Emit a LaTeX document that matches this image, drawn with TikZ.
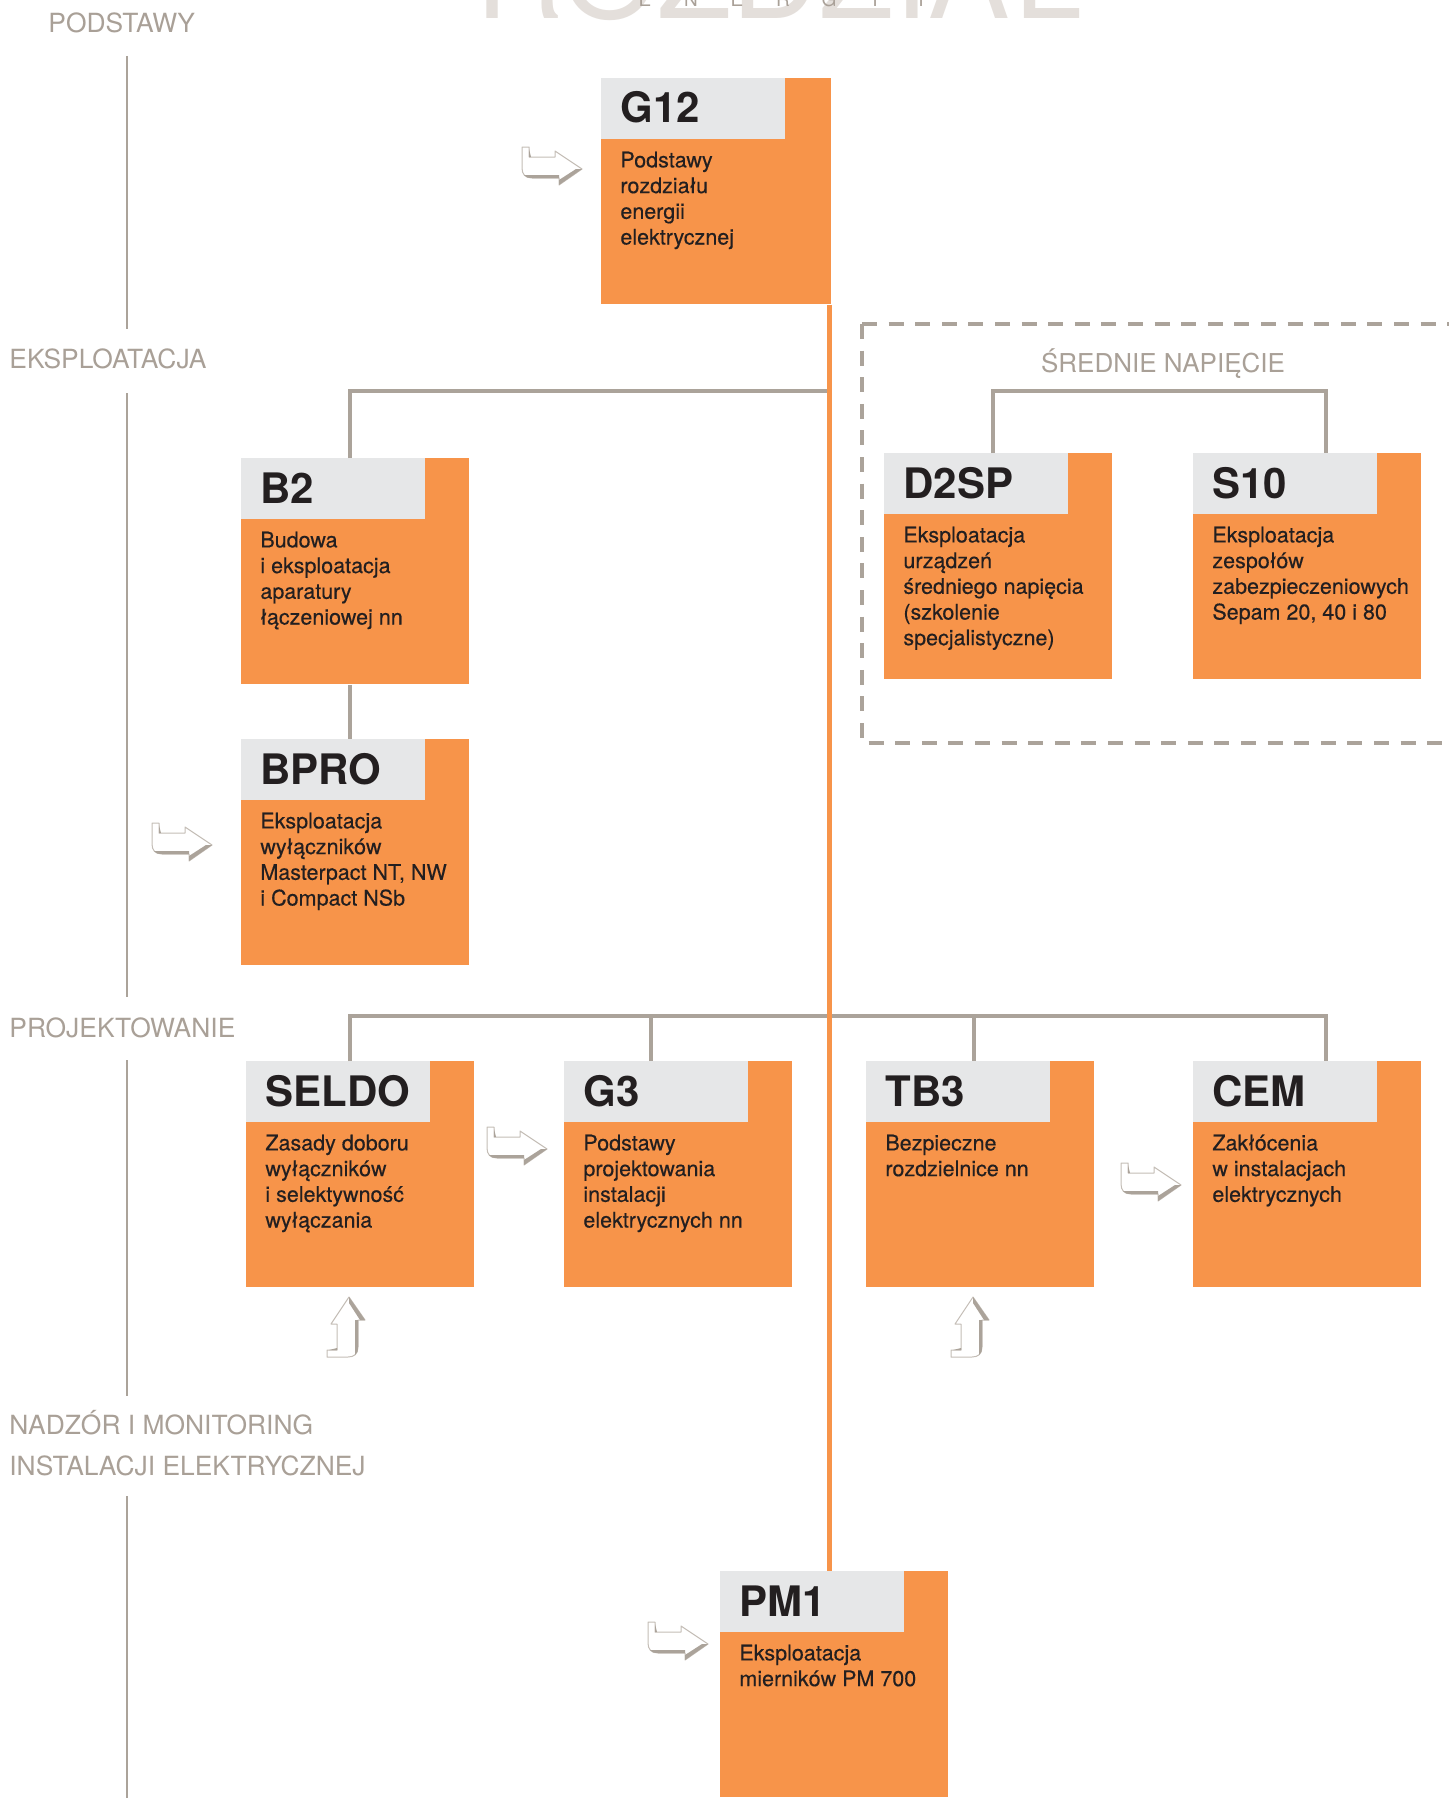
\documentclass[tikz,border=0pt]{standalone}
\usepackage{fontspec}
\setmainfont{TeX Gyre Heros}
\newfontfamily\bodyfont{TeX Gyre Heros}[FakeBold=0.35]
\usetikzlibrary{calc}
\definecolor{corange}{HTML}{F7944A}
\definecolor{chead}{HTML}{E6E7E8}
\definecolor{cline}{HTML}{ABA39A}
\definecolor{ctext}{HTML}{231F20}
\definecolor{clabel}{HTML}{A9A097}
\definecolor{ctitle}{HTML}{E4DFDB}
\definecolor{carrow}{HTML}{C4BDB6}
\tikzset{
  obox/.style={fill=corange, draw=none, minimum width=114pt, minimum height=113pt, inner sep=0pt, anchor=north west},
  hbox/.style={fill=chead, draw=none, minimum width=92pt, minimum height=30.5pt, inner sep=0pt, anchor=north west},
  ttl/.style={inner sep=0pt, anchor=base west, text=ctext, font={\fontsize{21}{24}\selectfont\bfseries}},
  bodytxt/.style={inner sep=0pt, anchor=north west, text=ctext, align=left, font={\bodyfont\fontsize{10.75}{12.85}\selectfont}},
  sidelabel/.style={inner sep=0pt, anchor=base west, text=clabel, font={\fontsize{13.2}{15}\selectfont}},
  gl/.style={draw=cline, line width=2.3pt, line join=miter},
  oline/.style={draw=corange, line width=2.5pt},
  sl/.style={draw=cline, line width=0.9pt},
  dashbox/.style={draw=cline, line width=2.2pt, dash pattern=on 7.5pt off 5.8pt},
  pics/hook/.style={code={
    \path[fill=white, draw=carrow, line width=0.5pt, line join=round]
      (0,0) -- (7,0) -- (7,10) -- (33,10) -- (33,4) -- (60,22) -- (37,38) -- (37,31) -- (10,31)
      .. controls (3,31) and (0,27) .. (0,21) -- cycle;
    \fill[cline] (60,22) -- (37,38) -- (37,33) -- (54,22) -- cycle;
    \fill[cline] (37,31) -- (10,31) .. controls (6,31) and (3,30) .. (2,28) -- (37,28) -- cycle;
    \fill[cline] (7,2) -- (9,10) -- (7,10) -- cycle;
  }}
}
\newcommand\course[6][114pt]{%
  \node[obox, minimum width=#1] (#2) at (#3,#4) {};
  \node[hbox] (#2h) at (#3,#4) {};
  \node[ttl] (#2t) at ($(#3,#4)+(19,45)$) {#5};
  \node[bodytxt] (#2b) at ($(#3,#4)+(19,69)$) {\rule{0pt}{10pt}#6};
}
\begin{document}
\begin{tikzpicture}[x=0.5pt, y=-0.5pt]
\useasboundingbox (0,0) rectangle (1449,1798);
% heading (cut off at top)
\node[inner sep=0pt, anchor=base, text=ctitle, font={\fontsize{61}{70}\selectfont}] (bigtitle) at (781,19) {ROZDZIAŁ};
\node[inner sep=0pt, anchor=base, text=clabel, font={\fontsize{9.5}{11}\selectfont}] (subtitle) at (783,7)
  {\hbox to 23pt{\hss E\hss}\hbox to 23pt{\hss N\hss}\hbox to 23pt{\hss E\hss}\hbox to 23pt{\hss R\hss}\hbox to 23pt{\hss G\hss}\hbox to 23pt{\hss I\hss}\hbox to 23pt{\hss I\hss}};
% side labels and line
\node[sidelabel] (lpod) at (48,33) {PODSTAWY};
\node[sidelabel] (leks) at (9,368) {EKSPLOATACJA};
\node[sidelabel] (lproj) at (9,1037) {PROJEKTOWANIE};
\node[sidelabel] (lnad1) at (9,1434) {NADZÓR I MONITORING};
\node[sidelabel] (lnad2) at (9,1475) {INSTALACJI ELEKTRYCZNEJ};
\draw[sl] (127,56) -- (127,329);
\draw[sl] (127,393) -- (127,997);
\draw[sl] (127,1060) -- (127,1396);
\draw[sl] (127,1496) -- (127,1798);
% dashed group
\draw[dashbox] (862,324) -- (1470,324);
\draw[dashbox] (862,324) -- (862,743) -- (1470,743);
\node[inner sep=0pt, anchor=base, text=clabel, font={\fontsize{13}{15}\selectfont}] (lsn) at (1163,372) {ŚREDNIE NAPIĘCIE};
% boxes
\course[115pt]{G12}{601}{78}{G12}{Podstawy\\rozdziału\\energii\\elektrycznej}
\course{B2}{241}{458}{B2}{Budowa\\i eksploatacja\\aparatury\\łączeniowej nn}
\course{BPRO}{241}{739}{BPRO}{Eksploatacja\\wyłączników\\Masterpact NT, NW\\i Compact NSb}
\course{D2SP}{884}{453}{D2SP}{Eksploatacja\\urządzeń\\średniego napięcia\\(szkolenie\\specjalistyczne)}
\course{S10}{1193}{453}{S10}{Eksploatacja\\zespołów\\zabezpieczeniowych\\Sepam 20, 40 i 80}
\course{SELDO}{246}{1061}{SELDO}{Zasady doboru\\wyłączników\\i selektywność\\wyłączania}
\course{G3}{564}{1061}{G3}{Podstawy\\projektowania\\instalacji\\elektrycznych nn}
\course{TB3}{866}{1061}{TB3}{Bezpieczne\\rozdzielnice nn}
\course{CEM}{1193}{1061}{CEM}{Zakłócenia\\w instalacjach\\elektrycznych}
\course{PM1}{720}{1571}{PM1}{Eksploatacja\\mierników PM 700}
% gray connectors
\coordinate (sp) at (829.5,304);
\coordinate (h1) at (350,391);
\draw[gl] (h1 |- B2.north) -- (h1) -- (h1 -| sp);
\draw[gl] (h1 |- B2.south) -- (h1 |- BPRO.north);
\coordinate (m1) at (993,391);
\coordinate (m2) at (1326,391);
\draw[gl] (m1 |- D2SP.north) -- (m1) -- (m2) -- (m2 |- S10.north);
\coordinate (b1) at (350,1016);
\coordinate (b2) at (651,1016);
\coordinate (b3) at (974,1016);
\coordinate (b4) at (1326,1016);
\draw[gl] (b1 |- SELDO.north) -- (b1) -- (b4) -- (b4 |- CEM.north);
\draw[gl] (b2) -- (b2 |- G3.north);
\draw[gl] (b3) -- (b3 |- TB3.north);
% orange spine
\draw[oline] (sp |- G12.south) -- (sp |- PM1.north);
% hook arrows
\pic at (522,147) {hook};
\pic at (152,823) {hook};
\pic at (487,1127) {hook};
\pic at (1121,1163) {hook};
\pic at (648,1622) {hook};
\pic[rotate=90] at (327,1357) {hook};
\pic[rotate=90] at (951,1357) {hook};
\end{tikzpicture}
\end{document}
